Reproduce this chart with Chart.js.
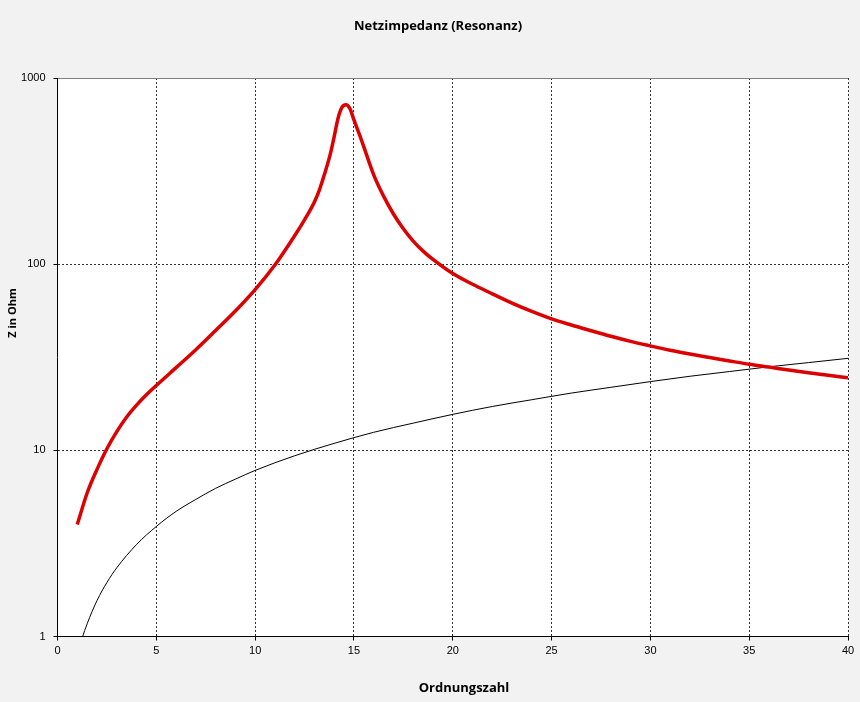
<!DOCTYPE html>
<html>
<head>
<meta charset="utf-8">
<script src="https://cdn.jsdelivr.net/npm/chart.js@4/dist/chart.umd.min.js"></script>
<style>
  html, body { margin:0; padding:0; background:#f2f2f2; }
  #wrap { width:860px; height:702px; }
</style>
</head>
<body>
<div id="wrap"><canvas id="chart"></canvas></div>
<script>
const ordnungRed = [1,1.5,2,2.5,3,3.5,4,4.5,5,6,7,8,9,10,11,11.5,12,12.5,12.75,13,13.25,13.5,13.8,14,14.2,14.4,14.6,14.8,15,15.3,15.5,16,16.5,17,17.5,18,18.5,19,20,21,22,23,24,25,26,27,28,29,30,31,32,33,34,35,36,37,38,39,40];
const zNetz = [4.0,5.9,7.9,10.2,12.6,15.1,17.5,19.9,22.3,27.8,34.7,44,56,73,99,118,142,173,192,216,250,302,389,484,610,697,718,684,596,490,427,302,232,186,155,133,117.5,106,89,78,69.3,61.7,55.7,50.8,47.1,43.9,41.0,38.5,36.4,34.5,32.9,31.5,30.2,29.0,28.0,27.0,26.1,25.3,24.5];

const ordnungBlack = [1,1.25,1.5,2,2.5,3,4,5,6,7,8,9,10,12,14,16,18,20,22,24,26,28,30,32,34,36,38,40];
const zKurz = [0.78,0.98,1.17,1.56,1.95,2.34,3.12,3.9,4.7,5.45,6.25,7.0,7.8,9.35,10.9,12.5,14.0,15.6,17.2,18.7,20.3,21.8,23.4,25.0,26.5,28.1,29.6,31.2];

const yTicks = [1,10,100,1000];
const xMin = 0, xMax = 40, xStep = 5;

const chartTitle = "Netzimpedanz (Resonanz)";
const xTitle = "Ordnungszahl";
const yTitle = "Z in Ohm";

const toPoints = (xs, ys) => xs.map((x,i)=>({x, y: ys[i]}));

const boldFamily = "'Open Sans', 'Liberation Sans', sans-serif";

const plotBg = {
  id:"plotBg",
  beforeDraw(chart){
    const {ctx, chartArea:a} = chart;
    ctx.save();
    ctx.fillStyle = "#ffffff";
    ctx.fillRect(a.left, a.top, a.right - a.left, a.bottom - a.top);
    ctx.restore();
  }
};

// titles placed like the Excel original (not centred on the canvas)
const titles = {
  id:"titles",
  afterDraw(chart){
    const {ctx} = chart;
    ctx.save();
    ctx.fillStyle = "#000";
    ctx.textAlign = "center";
    ctx.textBaseline = "middle";
    ctx.font = "bold 13px " + boldFamily;
    ctx.fillText(chartTitle, 438, 26);
    ctx.fillText(xTitle, 464, 688);
    ctx.translate(13, 313);
    ctx.rotate(-Math.PI/2);
    ctx.font = "bold 11px " + boldFamily;
    ctx.fillText(yTitle, 0, 0);
    ctx.restore();
  }
};

const tickFont = { family:"'Liberation Sans', Arial, sans-serif", size:11 };

new Chart(document.getElementById("chart"), {
  type:"line",
  data:{
    datasets:[
      {
        label:"Netzimpedanz",
        data: toPoints(ordnungRed, zNetz),
        borderColor:"#dd0000",
        borderWidth:3.5,
        pointRadius:0,
        cubicInterpolationMode:"monotone",
        fill:false
      },
      {
        label:"Referenz",
        data: toPoints(ordnungBlack, zKurz),
        borderColor:"#000000",
        borderWidth:1,
        pointRadius:0,
        cubicInterpolationMode:"monotone",
        fill:false
      }
    ]
  },
  options:{
    responsive:true,
    maintainAspectRatio:false,
    animation:false,
    layout:{ padding:{ left:0, right:12, top:78, bottom:0 } },
    plugins:{
      legend:{ display:false },
      tooltip:{ enabled:false },
      title:{ display:false }
    },
    scales:{
      x:{
        type:"linear",
        min:xMin, max:xMax,
        ticks:{ stepSize:xStep, color:"#000", font:tickFont, padding:4, maxRotation:0 },
        grid:{
          color:(c)=> c.tick && c.tick.value === xMin ? "rgba(0,0,0,0)" : "#333",
          lineWidth:1,
          tickLength:4,
          tickColor:"#000",
          tickBorderDash:[]
        },
        border:{ display:true, color:"#000", width:1, dash:[2,2] },
        title:{ display:false },
        afterFit(scale){ scale.height = 65.5; }
      },
      y:{
        type:"logarithmic",
        min:1, max:1000,
        afterBuildTicks(scale){ scale.ticks = yTicks.map(v=>({value:v})); },
        ticks:{
          color:"#000", font:tickFont, padding:8,
          callback:(v)=> String(v)
        },
        grid:{
          color:(c)=> {
            if(!c.tick) return "#333";
            if(c.tick.value === 1) return "rgba(0,0,0,0)";
            if(c.tick.value === 1000) return "#808080";
            return "#333";
          },
          lineWidth:1,
          tickLength:4,
          tickColor:"#000",
          tickBorderDash:[]
        },
        border:{
          display:true, color:"#000", width:1,
          dash:(c)=> c.tick && c.tick.value === 1000 ? [] : [2,2]
        },
        title:{ display:false },
        afterFit(scale){ scale.width = 57.5; }
      }
    }
  },
  plugins:[plotBg, titles]
});
</script>
</body>
</html>
